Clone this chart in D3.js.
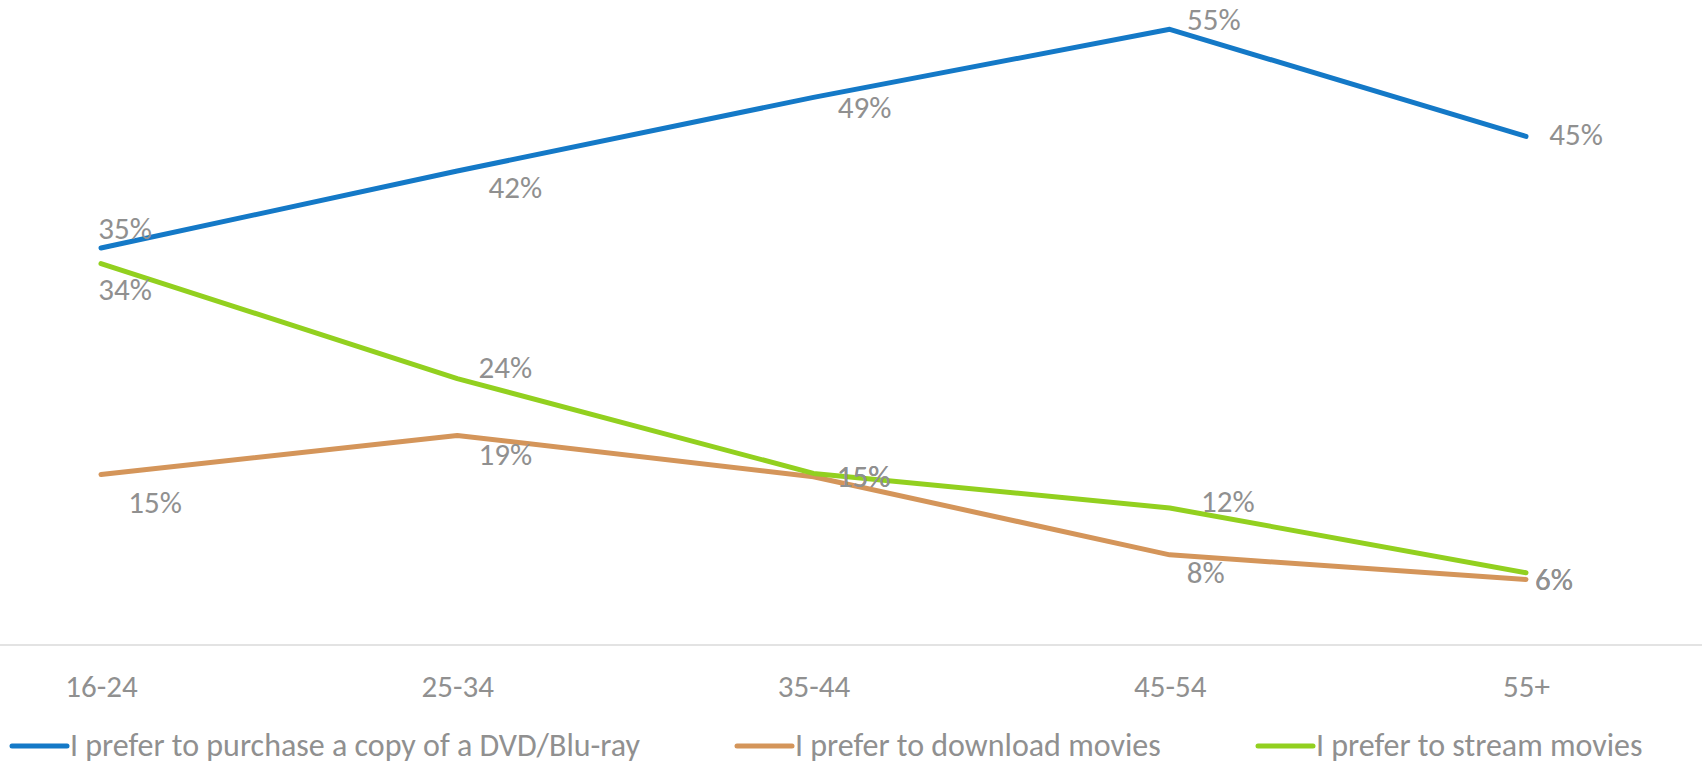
<!DOCTYPE html>
<html>
<head>
<meta charset="utf-8">
<script src="https://cdn.jsdelivr.net/npm/d3@7"></script>
<style>
  body { margin: 0; background: #fff; }
  text { font-family: Carlito, Calibri, Lato, sans-serif; fill: #909090; }
</style>
</head>
<body>
<div id="chart"></div>
<script>
// age groups and the share (%) in each group
var categories = ["16-24", "25-34", "35-44", "45-54", "55+"];
var purchase = [35.4, 42.3, 48.9, 55.0, 45.4];
var download = [15.1, 18.6, 14.9, 7.9, 5.7];
var stream = [34.0, 23.7, 15.2, 12.1, 6.3];
var seriesNames = [
  "I prefer to purchase a copy of a DVD/Blu-ray",
  "I prefer to download movies",
  "I prefer to stream movies"
];

var svgWidth = 1702;
var svgHeight = 765;
var fontSize = 31;

var colors = ["#1479c7", "#d4955a", "#92d01f"];

// where each data label sits relative to its point [dx, dy]
var labelOffsets = [
  [[24, -9], [58, 27], [51, 21], [44, 1], [50, 9]],
  [[54, 38], [48, 30], [50, 10], [36, 28], [28, 11]],
  [[24, 36], [48, -1], [50, 14], [58, 4], [28, 17]]
];

var series = [purchase, download, stream].map(function(vals, i) {
  return {
    name: seriesNames[i],
    color: colors[i],
    values: vals.map(function(v, j) { return {cat: categories[j], value: v}; })
  };
});

var svg = d3.select("#chart")
  .append("svg")
  .attr("width", svgWidth)
  .attr("height", svgHeight);

var xScale = d3.scalePoint()
  .domain(categories)
  .range([101, 1526]);

var yScale = d3.scaleLinear()
  .domain([0, 55])
  .range([643, 29.3]);

// category axis
var xAxis = svg.append("g")
  .attr("transform", "translate(0, 645)")
  .call(d3.axisBottom(xScale).tickSize(0));

xAxis.select(".domain").remove();
xAxis.selectAll("text")
  .attr("y", 52)
  .attr("dy", null)
  .style("font-size", fontSize + "px")
  .style("font-family", null)
  .attr("fill", "#909090");

svg.append("line")
  .attr("x1", 0)
  .attr("x2", svgWidth)
  .attr("y1", 645)
  .attr("y2", 645)
  .attr("stroke", "#e3e3e3")
  .attr("stroke-width", 2);

var line = d3.line()
  .x(d => xScale(d.cat))
  .y(d => yScale(d.value));

svg.selectAll("path.series")
  .data(series)
  .enter()
  .append("path")
  .attr("class", "series")
  .attr("d", d => line(d.values))
  .attr("fill", "none")
  .attr("stroke", d => d.color)
  .attr("stroke-width", 5)
  .attr("stroke-linecap", "round")
  .attr("stroke-linejoin", "round");

// data labels
series.forEach(function(s, i) {
  svg.append("g")
    .selectAll("text")
    .data(s.values)
    .enter()
    .append("text")
    .attr("x", (d, j) => xScale(d.cat) + labelOffsets[i][j][0])
    .attr("y", (d, j) => yScale(d.value) + labelOffsets[i][j][1])
    .attr("text-anchor", "middle")
    .style("font-size", fontSize + "px")
    .text(d => Math.round(d.value) + "%");
});

// legend
var legendX = [12, 737, 1258];
var legend = svg.selectAll("g.legend")
  .data(series)
  .enter()
  .append("g")
  .attr("class", "legend")
  .attr("transform", (d, i) => `translate(${legendX[i]}, 746)`);

legend.append("line")
  .attr("x1", 0)
  .attr("x2", 55)
  .attr("stroke", d => d.color)
  .attr("stroke-width", 5)
  .attr("stroke-linecap", "round");

legend.append("text")
  .attr("x", 58)
  .attr("y", 10)
  .style("font-size", "32px")
  .text(d => d.name);
</script>
</body>
</html>
